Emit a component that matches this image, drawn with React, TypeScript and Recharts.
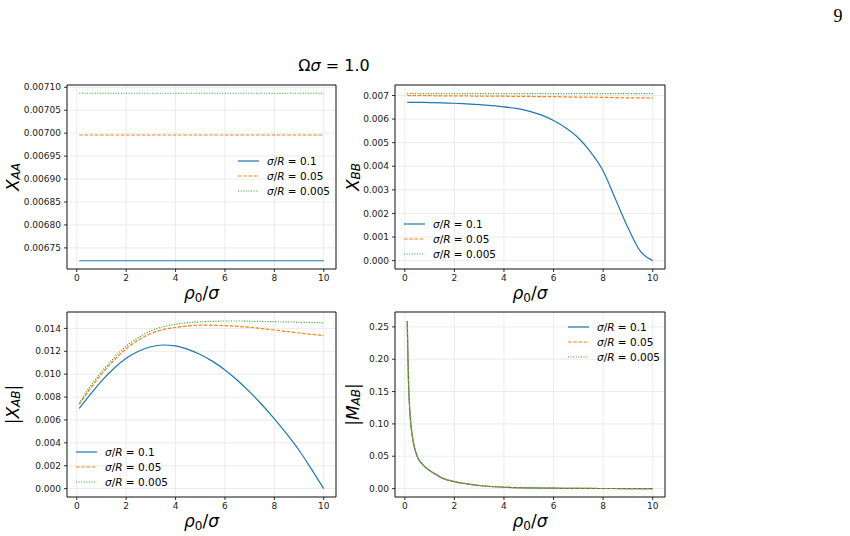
import React from 'react';
import { LineChart, Line, XAxis, YAxis, CartesianGrid, ReferenceArea } from 'recharts';

// rho_0 / sigma sample points
const rho = [0.1, 0.5, 1, 1.5, 2, 2.5, 3, 3.5, 4, 4.5, 5, 5.5, 6, 6.5, 7, 7.5, 8, 8.5, 9, 9.5, 10];
const rhoFine = [0.1, 0.12, 0.15, 0.2, 0.25, 0.3, 0.4, 0.5, 0.75, 1, 1.25, 1.5, 2, 2.5, 3, 4, 5, 6, 7, 8, 9, 10];

// X_AA
const xaaR1 = [0.006722, 0.006722, 0.006722, 0.006722, 0.006722, 0.006722, 0.006722, 0.006722, 0.006722, 0.006722, 0.006722, 0.006722, 0.006722, 0.006722, 0.006722, 0.006722, 0.006722, 0.006722, 0.006722, 0.006722, 0.006722];
const xaaR05 = [0.006996, 0.006996, 0.006996, 0.006996, 0.006996, 0.006996, 0.006996, 0.006996, 0.006996, 0.006996, 0.006996, 0.006996, 0.006996, 0.006996, 0.006996, 0.006996, 0.006996, 0.006996, 0.006996, 0.006996, 0.006996];
const xaaR005 = [0.007087, 0.007087, 0.007087, 0.007087, 0.007087, 0.007087, 0.007087, 0.007087, 0.007087, 0.007087, 0.007087, 0.007087, 0.007087, 0.007087, 0.007087, 0.007087, 0.007087, 0.007087, 0.007087, 0.007087, 0.007087];

// X_BB
const xbbR1 = [0.00671, 0.006708, 0.0067, 0.00669, 0.00667, 0.00664, 0.00661, 0.00657, 0.00652, 0.00645, 0.00634, 0.00618, 0.00594, 0.00562, 0.0052, 0.0046, 0.0038, 0.0026, 0.0014, 0.0004, 0.0];
const xbbR05 = [0.00699, 0.00699, 0.00699, 0.00698, 0.00698, 0.00698, 0.00697, 0.00697, 0.00697, 0.00696, 0.00696, 0.00695, 0.00695, 0.00694, 0.00693, 0.00693, 0.00692, 0.00691, 0.0069, 0.0069, 0.00689];
const xbbR005 = [0.00708, 0.00708, 0.00708, 0.00708, 0.00708, 0.00708, 0.00708, 0.00708, 0.00708, 0.00708, 0.00708, 0.00708, 0.00708, 0.00708, 0.00708, 0.00708, 0.00708, 0.00708, 0.00708, 0.00708, 0.00708];

// |X_AB|
const xabR1 = [0.007, 0.0081, 0.0094, 0.0105, 0.0114, 0.012, 0.0124, 0.01255, 0.01247, 0.01217, 0.01172, 0.01112, 0.01037, 0.00947, 0.00845, 0.00733, 0.0061, 0.00478, 0.00335, 0.0017, 0.0];
const xabR05 = [0.00735, 0.0086, 0.01, 0.0112, 0.01222, 0.013, 0.01355, 0.0139, 0.01408, 0.01422, 0.01428, 0.01428, 0.01424, 0.01418, 0.0141, 0.01398, 0.01386, 0.01373, 0.0136, 0.01348, 0.01338];
const xabR005 = [0.00745, 0.0088, 0.0102, 0.0114, 0.01245, 0.0132, 0.0138, 0.01415, 0.01437, 0.0145, 0.01458, 0.01462, 0.01465, 0.01465, 0.01463, 0.01461, 0.01459, 0.01457, 0.01454, 0.01452, 0.01449];

// |M_AB| (the three curves coincide)
const mabR1 = [0.259, 0.215, 0.165, 0.122, 0.097, 0.082, 0.062, 0.05, 0.036, 0.028, 0.022, 0.0165, 0.0108, 0.0074, 0.0048, 0.0021, 0.0011, 0.0006, 0.0003, 0.00015, 0.00008, 0.00004];
const mabR05 = [0.259, 0.215, 0.165, 0.122, 0.097, 0.082, 0.062, 0.05, 0.036, 0.028, 0.022, 0.0165, 0.0108, 0.0074, 0.0048, 0.0021, 0.0011, 0.0006, 0.0003, 0.00015, 0.00008, 0.00004];
const mabR005 = [0.259, 0.215, 0.165, 0.122, 0.097, 0.082, 0.062, 0.05, 0.036, 0.028, 0.022, 0.0165, 0.0108, 0.0074, 0.0048, 0.0021, 0.0011, 0.0006, 0.0003, 0.00015, 0.00008, 0.00004];

const legendLabels = ['0.1', '0.05', '0.005'];
const xTicks = [0, 2, 4, 6, 8, 10];
const xaaTicks = [0.00675, 0.0068, 0.00685, 0.0069, 0.00695, 0.007, 0.00705, 0.0071];
const xbbTicks = [0, 0.001, 0.002, 0.003, 0.004, 0.005, 0.006, 0.007];
const xabTicks = [0, 0.002, 0.004, 0.006, 0.008, 0.01, 0.012, 0.014];
const mabTicks = [0, 0.05, 0.1, 0.15, 0.2, 0.25];

const X_DOMAIN: [number, number] = [-0.395, 10.495];
const COLORS = ['#1f77b4', '#ff7f0e', '#2ca02c'];
const DASHES = [undefined, '3.6 1.6', '1 1.6'];
const FONT = 'DejaVu Sans, sans-serif';

const table = (xs: number[], a: number[], b: number[], c: number[]) =>
  xs.map((x, i) => ({ x, a: a[i], b: b[i], c: c[i] }));

type Frame = { left: number; top: number; right: number; bottom: number };

function Panel(props: {
  left: number; top: number; width: number; height: number; frame: Frame;
  data: any[]; yDomain: [number, number]; yTicks: number[]; digits: number;
}) {
  const { left, top, width, height, frame, data, yDomain, yTicks, digits } = props;
  const tick = { fontSize: 9, fill: '#1a1a1a', fontFamily: FONT };
  return (
    <div style={{ position: 'absolute', left, top }}>
      <LineChart
        width={width}
        height={height}
        data={data}
        margin={{ top: frame.top - top, right: left + width - frame.right, left: 0, bottom: 0 }}
      >
        <CartesianGrid stroke="#e6e6e6" strokeWidth={0.8} />
        <XAxis
          type="number"
          dataKey="x"
          domain={X_DOMAIN}
          ticks={xTicks}
          interval={0}
          allowDataOverflow
          height={top + height - frame.bottom}
          axisLine={false}
          tickLine={{ stroke: '#000', strokeWidth: 0.8 }}
          tickSize={3}
          tickMargin={3}
          tick={tick}
        />
        <YAxis
          type="number"
          domain={yDomain}
          ticks={yTicks}
          interval={0}
          allowDataOverflow
          width={frame.left - left}
          axisLine={false}
          tickLine={{ stroke: '#000', strokeWidth: 0.8 }}
          tickSize={3}
          tickMargin={3}
          tick={tick}
          tickFormatter={(v: number) => v.toFixed(digits)}
        />
        <ReferenceArea
          x1={X_DOMAIN[0]}
          x2={X_DOMAIN[1]}
          y1={yDomain[0]}
          y2={yDomain[1]}
          fill="none"
          stroke="#000"
          strokeWidth={0.9}
          ifOverflow="visible"
        />
        {['a', 'b', 'c'].map((k, i) => (
          <Line
            key={k}
            type="monotone"
            dataKey={k}
            stroke={COLORS[i]}
            strokeWidth={1.2}
            strokeDasharray={DASHES[i]}
            dot={false}
            isAnimationActive={false}
          />
        ))}
      </LineChart>
    </div>
  );
}

function XLabel({ x, y }: { x: number; y: number }) {
  return (
    <text x={x} y={y} textAnchor="middle" fontSize={17} fontFamily={FONT} fill="#000">
      <tspan fontStyle="italic">ρ</tspan>
      <tspan fontSize={12} dy={3}>0</tspan>
      <tspan dy={-3}>/</tspan>
      <tspan fontStyle="italic">σ</tspan>
    </text>
  );
}

function YLabel({ x, y, main, sub, abs }: { x: number; y: number; main: string; sub: string; abs?: boolean }) {
  return (
    <text
      x={x}
      y={y}
      textAnchor="middle"
      dominantBaseline="central"
      transform={`rotate(-90, ${x}, ${y})`}
      fontSize={17}
      fontFamily={FONT}
      fill="#000"
    >
      {abs ? '|' : ''}
      <tspan fontStyle="italic">{main}</tspan>
      <tspan fontSize={12} fontStyle="italic" dy={3}>{sub}</tspan>
      <tspan dy={-3}>{abs ? '|' : ''}</tspan>
    </text>
  );
}

function LegendBox({ x, y }: { x: number; y: number }) {
  return (
    <g>
      {legendLabels.map((lab, i) => (
        <g key={lab}>
          <line
            x1={x}
            x2={x + 21}
            y1={y + i * 15}
            y2={y + i * 15}
            stroke={COLORS[i]}
            strokeWidth={1.2}
            strokeDasharray={DASHES[i]}
          />
          <text x={x + 29} y={y + i * 15} dominantBaseline="central" fontSize={10.5} fontFamily={FONT} fill="#000">
            <tspan fontStyle="italic">σ</tspan>/<tspan fontStyle="italic">R</tspan> = {lab}
          </text>
        </g>
      ))}
    </g>
  );
}

export default function App() {
  const topFrameL: Frame = { left: 67, top: 85, right: 336, bottom: 269 };
  const topFrameR: Frame = { left: 395, top: 85, right: 665, bottom: 269 };
  const botFrameL: Frame = { left: 67, top: 312, right: 336, bottom: 497 };
  const botFrameR: Frame = { left: 395, top: 312, right: 665, bottom: 497 };
  return (
    <div style={{ position: 'absolute', left: 0, top: 0, width: 850, height: 536, background: '#fff', overflow: 'hidden' }}>
      <Panel left={0} top={80} width={340} height={225} frame={topFrameL}
        data={table(rho, xaaR1, xaaR05, xaaR005)} yDomain={[0.006704, 0.007105]} yTicks={xaaTicks} digits={5} />
      <Panel left={340} top={80} width={330} height={225} frame={topFrameR}
        data={table(rho, xbbR1, xbbR05, xbbR005)} yDomain={[-0.000354, 0.007444]} yTicks={xbbTicks} digits={3} />
      <Panel left={0} top={305} width={340} height={231} frame={botFrameL}
        data={table(rho, xabR1, xabR05, xabR005)} yDomain={[-0.000735, 0.015435]} yTicks={xabTicks} digits={3} />
      <Panel left={340} top={305} width={330} height={231} frame={botFrameR}
        data={table(rhoFine, mabR1, mabR05, mabR005)} yDomain={[-0.013, 0.273]} yTicks={mabTicks} digits={2} />
      <svg width={850} height={536} style={{ position: 'absolute', left: 0, top: 0, pointerEvents: 'none' }}>
        <text x={838} y={22} textAnchor="middle" fontSize={18} fontFamily="Liberation Serif, serif" fill="#000">9</text>
        <text x={334} y={65} textAnchor="middle" dominantBaseline="central" fontSize={16} fontFamily={FONT} fill="#000">
          Ω<tspan fontStyle="italic">σ</tspan> = 1.0
        </text>
        <XLabel x={201.5} y={299} />
        <XLabel x={530} y={299} />
        <XLabel x={201.5} y={527} />
        <XLabel x={530} y={527} />
        <YLabel x={13} y={177} main="X" sub="AA" />
        <YLabel x={353} y={177} main="X" sub="BB" />
        <YLabel x={13} y={404.5} main="X" sub="AB" abs />
        <YLabel x={353} y={404.5} main="M" sub="AB" abs />
        <LegendBox x={238} y={161} />
        <LegendBox x={404} y={224} />
        <LegendBox x={76} y={452} />
        <LegendBox x={568} y={327} />
      </svg>
    </div>
  );
}
